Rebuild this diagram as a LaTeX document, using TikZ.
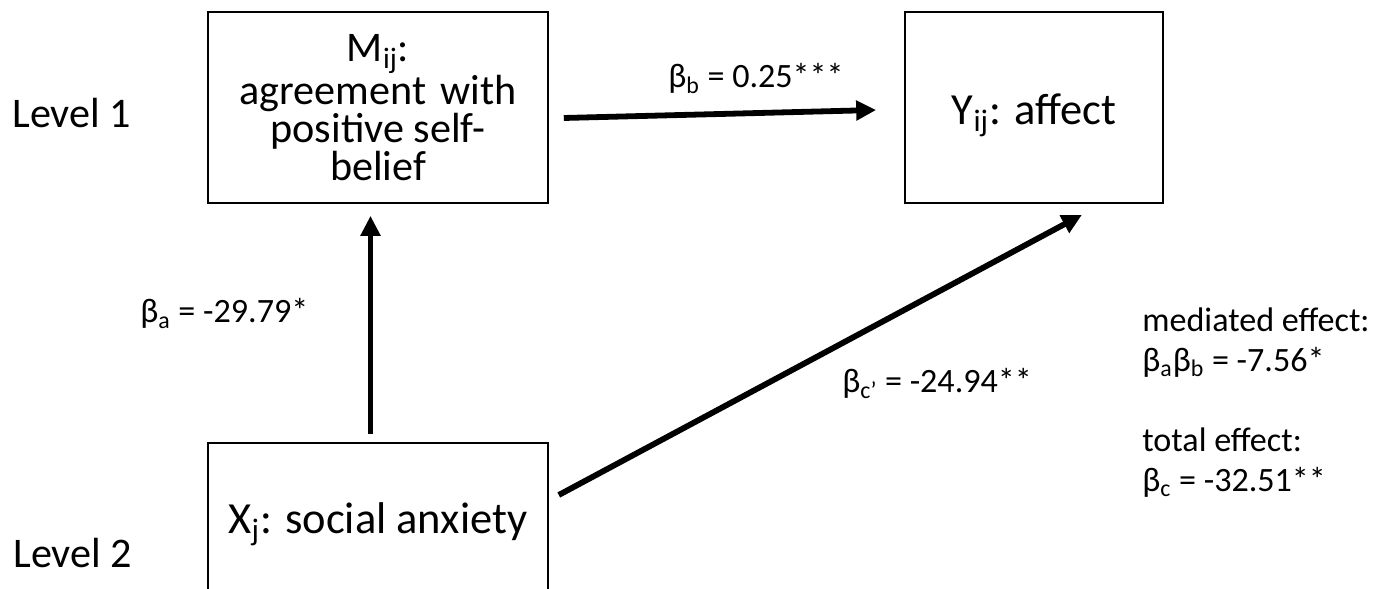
\documentclass[tikz,border=0pt]{standalone}
\usepackage{fontspec}
\setmainfont{Carlito}
\usetikzlibrary{arrows.meta,positioning}
\newcommand{\lowered}[2]{\raisebox{-#1}[\height][\depth]{#2}}
\tikzset{
    varbox/.style={draw, line width=0.9pt, minimum width=6.8cm, minimum height=3.82cm, inner sep=0pt, align=center, font=\fontsize{25.3}{21}\selectfont},
    effarrow/.style={line width=3.3pt, -{Triangle[length=0.4cm,width=0.38cm]}},
    coeflabel/.style={inner sep=0pt, anchor=base west, font=\fontsize{19.4}{22.8}\selectfont},
    levellabel/.style={inner sep=0pt, anchor=base west, font=\fontsize{24}{20}\selectfont}
}

\begin{document}
\begin{tikzpicture}
    \useasboundingbox (0,0) rectangle (27.9,11.78);
    \clip (0,0) rectangle (27.9,11.78);
    % Level labels
    \node[levellabel] (lev1) at (0.24,9.22) {Level 1};
    \node[levellabel] (lev2) at (0.26,0.42) {Level 2};
    % Variables
    \node[varbox, font=\fontsize{24}{21.6}\selectfont] (M) at (7.56,9.63) {M\textsubscript{ij}:\\agreement\hspace{0.1cm} with\\positive self-\\belief};
    \node[varbox, minimum width=5.16cm] (Y) at (20.68,9.63) {\lowered{0.16cm}{Y\textsubscript{ij}: affect}};
    \node[varbox, minimum height=3.02cm] (X) at (7.56,1.41) {\lowered{0.12cm}{X\textsubscript{j}: social anxiety}};
    % Paths
    \draw[effarrow] ([xshift=0.30cm,yshift=-0.21cm]M.east) -- ([xshift=-0.56cm,yshift=-0.05cm]Y.west);
    \draw[effarrow] ([xshift=-0.15cm,yshift=0.16cm]X.north) -- ([xshift=-0.15cm,yshift=-0.24cm]M.south);
    \draw[effarrow] ([xshift=0.20cm,yshift=0.47cm]X.east) -- ([xshift=0.96cm,yshift=-0.22cm]Y.south);
    % Coefficients
    \node[coeflabel] (cb) at (13.36,10.02) {β\textsubscript{b} = 0.25***};
    \node[coeflabel] (ca) at (2.80,5.32) {β\textsubscript{a} = -29.79*};
    \node[coeflabel] (cc) at (16.84,3.92) {β\textsubscript{c’} = -24.94**};
    % Effects summary
    \node[coeflabel, anchor=north west, align=left] (eff) at (22.84,5.64) {mediated effect:\\β\textsubscript{a}β\textsubscript{b} = -7.56*\\[0.8cm]total effect:\\β\textsubscript{c} = -32.51**};
\end{tikzpicture}
\end{document}
